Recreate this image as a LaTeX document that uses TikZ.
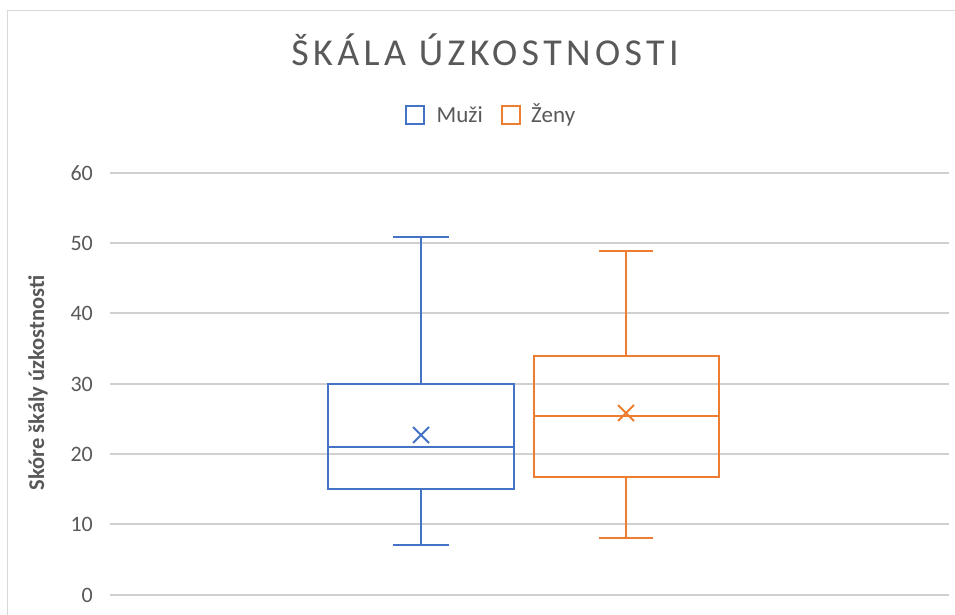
\documentclass[tikz,border=0pt]{standalone}
\usepackage{fontspec}
\setmainfont{Carlito}
\newfontfamily\titlefont[LetterSpace=11.5]{Carlito}
\usetikzlibrary{positioning}
\definecolor{muzi}{HTML}{4472C4}
\definecolor{zeny}{HTML}{ED7D31}
\definecolor{txtgray}{HTML}{595959}
\definecolor{gridgray}{HTML}{D0D0D0}
\definecolor{framegray}{HTML}{D9D9D9}

\begin{document}
\begin{tikzpicture}[x=1pt,y=1pt]
                \tikzstyle{every node}+=[inner sep=0pt, text=txtgray]
                \tikzstyle{gridline}=[gridgray, line width=1.8pt]
                \tikzstyle{ticklabel}=[anchor=east, font=\fontsize{22}{24}\selectfont]
                \tikzstyle{boxline}=[line width=2pt]
                \tikzstyle{legbox}=[draw, line width=2pt, minimum size=18pt]
                \useasboundingbox [fill=white] (0,0) rectangle (955,-615);
                % frame of the chart
                \draw [framegray, line width=1pt] (7.5,-615) -- (7.5,-11) -- (955,-11);
                % title and legend
                \node (title) at (485,-50) {\titlefont\fontsize{38}{44}\selectfont ŠKÁLA ÚZKOSTNOSTI};
                \node [legbox, muzi] (legM) at (414.5,-115) {};
                \node [right=12pt of legM, font=\fontsize{23}{26}\selectfont] (txtM) {Muži};
                \node [legbox, zeny, right=18pt of txtM] (legZ) {};
                \node [right=10pt of legZ, font=\fontsize{23}{26}\selectfont] (txtZ) {Ženy};
                % grid and ticks
                \draw [gridline] (110,-173) -- (949,-173);
                \draw [gridline] (110,-243) -- (949,-243);
                \draw [gridline] (110,-313) -- (949,-313);
                \draw [gridline] (110,-384) -- (949,-384);
                \draw [gridline] (110,-454) -- (949,-454);
                \draw [gridline] (110,-524) -- (949,-524);
                \draw [gridline] (110,-595) -- (949,-595);
                \node [ticklabel] (t60) at (93,-173) {60};
                \node [ticklabel] (t50) at (93,-243) {50};
                \node [ticklabel] (t40) at (93,-313) {40};
                \node [ticklabel] (t30) at (93,-384) {30};
                \node [ticklabel] (t20) at (93,-454) {20};
                \node [ticklabel] (t10) at (93,-524) {10};
                \node [ticklabel] (t0) at (93,-595) {0};
                \node [rotate=90, font=\bfseries\fontsize{22.5}{26}\selectfont] (ytitle) at (38,-383) {Skóre škály úzkostnosti};
                % Muzi
                \draw [muzi, boxline] (328,-384) rectangle (514,-489);
                \draw [muzi, boxline] (328,-447) -- (514,-447);
                \draw [muzi, boxline] (421,-384) -- (421,-237);
                \draw [muzi, boxline] (393,-237) -- (449,-237);
                \draw [muzi, boxline] (421,-489) -- (421,-545);
                \draw [muzi, boxline] (393,-545) -- (449,-545);
                \draw [muzi, line width=1.8pt] (413,-427) -- (429,-443);
                \draw [muzi, line width=1.8pt] (413,-443) -- (429,-427);
                % Zeny
                \draw [zeny, boxline] (534,-356) rectangle (719,-477);
                \draw [zeny, boxline] (534,-415.5) -- (719,-415.5);
                \draw [zeny, boxline] (626,-356) -- (626,-251);
                \draw [zeny, boxline] (599,-251) -- (653,-251);
                \draw [zeny, boxline] (626,-477) -- (626,-538);
                \draw [zeny, boxline] (599,-538) -- (653,-538);
                \draw [zeny, line width=1.8pt] (618,-405) -- (634,-421);
                \draw [zeny, line width=1.8pt] (618,-421) -- (634,-405);
            \end{tikzpicture}
\end{document}
